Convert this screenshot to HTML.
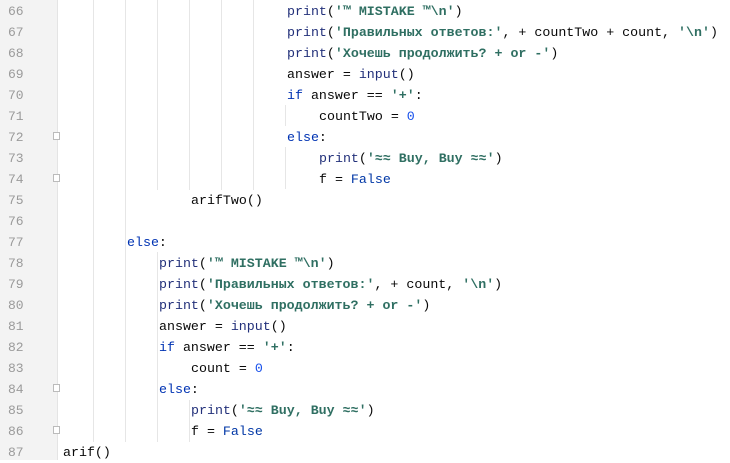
<!DOCTYPE html>
<html><head><meta charset="utf-8"><style>
body{margin:0;width:730px;height:460px;background:#fff;position:relative;overflow:hidden;font-family:"Liberation Mono","DejaVu Sans Mono",monospace;font-size:13.3px}
.g{position:absolute;left:0;top:0;width:57px;height:460px;background:#f3f3f3;border-right:1px solid #e4e4e4}
.n{position:absolute;left:8px;color:#9a9a9a;line-height:21px;font-size:13px}
.l{position:absolute;line-height:21px;color:#080808;white-space:pre}
.v{position:absolute;width:1px;background:#e6e6e6}
.f{color:#22307a}.s{color:#2f6f62;font-weight:bold}.k{color:#0033b3}.d{color:#1750eb}.e{color:#0037a6}
.fm{position:absolute;left:53px;width:7px;height:8px;border:1px solid #bbb;background:#fff;box-sizing:border-box}
</style></head><body>
<div class="g"></div>
<div class="v" style="left:93px;top:0;height:442px"></div>
<div class="v" style="left:125px;top:0;height:442px"></div>
<div class="v" style="left:157px;top:0;height:190px"></div>
<div class="v" style="left:157px;top:252px;height:190px"></div>
<div class="v" style="left:189px;top:0;height:190px"></div>
<div class="v" style="left:189px;top:400px;height:42px"></div>
<div class="v" style="left:221px;top:0;height:190px"></div>
<div class="v" style="left:253px;top:0;height:190px"></div>
<div class="v" style="left:285px;top:105px;height:21px"></div>
<div class="v" style="left:285px;top:147px;height:42px"></div>
<div class="fm" style="top:132px"></div>
<div class="fm" style="top:174px"></div>
<div class="fm" style="top:384px"></div>
<div class="fm" style="top:426px"></div>

<div class="n" style="top:1px">66</div>
<div class="n" style="top:22px">67</div>
<div class="n" style="top:43px">68</div>
<div class="n" style="top:64px">69</div>
<div class="n" style="top:85px">70</div>
<div class="n" style="top:106px">71</div>
<div class="n" style="top:127px">72</div>
<div class="n" style="top:148px">73</div>
<div class="n" style="top:169px">74</div>
<div class="n" style="top:190px">75</div>
<div class="n" style="top:211px">76</div>
<div class="n" style="top:232px">77</div>
<div class="n" style="top:253px">78</div>
<div class="n" style="top:274px">79</div>
<div class="n" style="top:295px">80</div>
<div class="n" style="top:316px">81</div>
<div class="n" style="top:337px">82</div>
<div class="n" style="top:358px">83</div>
<div class="n" style="top:379px">84</div>
<div class="n" style="top:400px">85</div>
<div class="n" style="top:421px">86</div>
<div class="n" style="top:442px">87</div>

<div class="l" style="left:287px;top:1px"><span class="f">print</span>(<span class="s">'™ MISTAKE ™\n'</span>)</div>
<div class="l" style="left:287px;top:22px"><span class="f">print</span>(<span class="s">'Правильных ответов:'</span>, + countTwo + count, <span class="s">'\n'</span>)</div>
<div class="l" style="left:287px;top:43px"><span class="f">print</span>(<span class="s">'Хочешь продолжить? + or -'</span>)</div>
<div class="l" style="left:287px;top:64px">answer = <span class="f">input</span>()</div>
<div class="l" style="left:287px;top:85px"><span class="k">if</span> answer == <span class="s">'+'</span>:</div>
<div class="l" style="left:319px;top:106px">countTwo = <span class="d">0</span></div>
<div class="l" style="left:287px;top:127px"><span class="k">else</span>:</div>
<div class="l" style="left:319px;top:148px"><span class="f">print</span>(<span class="s">'≈≈ Buy, Buy ≈≈'</span>)</div>
<div class="l" style="left:319px;top:169px">f = <span class="e">False</span></div>
<div class="l" style="left:191px;top:190px">arifTwo()</div>
<div class="l" style="left:127px;top:232px"><span class="k">else</span>:</div>
<div class="l" style="left:159px;top:253px"><span class="f">print</span>(<span class="s">'™ MISTAKE ™\n'</span>)</div>
<div class="l" style="left:159px;top:274px"><span class="f">print</span>(<span class="s">'Правильных ответов:'</span>, + count, <span class="s">'\n'</span>)</div>
<div class="l" style="left:159px;top:295px"><span class="f">print</span>(<span class="s">'Хочешь продолжить? + or -'</span>)</div>
<div class="l" style="left:159px;top:316px">answer = <span class="f">input</span>()</div>
<div class="l" style="left:159px;top:337px"><span class="k">if</span> answer == <span class="s">'+'</span>:</div>
<div class="l" style="left:191px;top:358px">count = <span class="d">0</span></div>
<div class="l" style="left:159px;top:379px"><span class="k">else</span>:</div>
<div class="l" style="left:191px;top:400px"><span class="f">print</span>(<span class="s">'≈≈ Buy, Buy ≈≈'</span>)</div>
<div class="l" style="left:191px;top:421px">f = <span class="e">False</span></div>
<div class="l" style="left:63px;top:442px">arif()</div>
</body></html>
